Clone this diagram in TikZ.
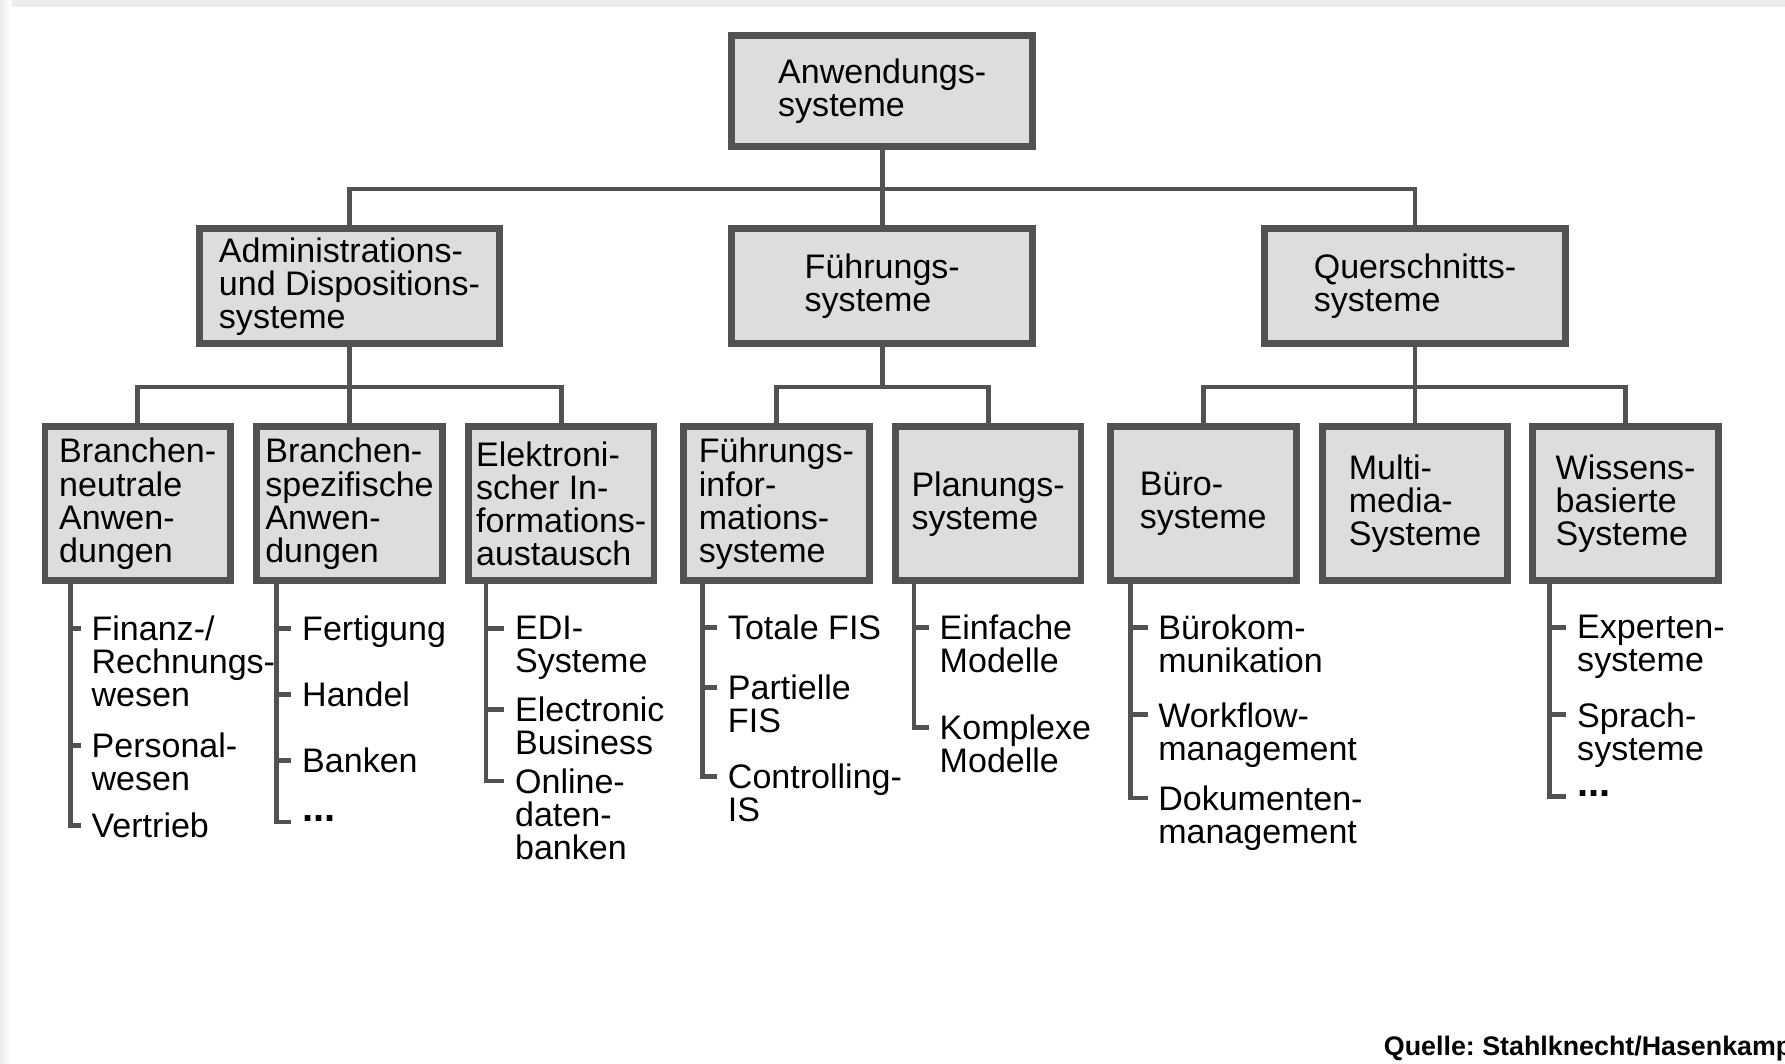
\documentclass[tikz,border=0pt]{standalone}
\usepackage{fontspec}
\setmainfont{Liberation Sans}
\usetikzlibrary{calc}
\definecolor{linec}{RGB}{82,82,82}
\definecolor{boxc}{RGB}{221,221,221}
\definecolor{framec}{RGB}{236,236,236}

\tikzset{
  box/.style={draw=linec, fill=boxc, line width=1.7pt, align=left, inner sep=0pt},
  topbox/.style={box, minimum width=2.64cm, minimum height=0.98cm},
  midbox/.style={box, minimum width=2.64cm, minimum height=1.01cm},
  subbox/.style={box, minimum width=1.63cm, minimum height=1.35cm},
  conn/.style={draw=linec, line width=1.2pt},
  item/.style={anchor=north west, yshift=3.3pt, align=left, inner xsep=2.5pt,
    inner ysep=0pt, execute at begin node=\strut},
  dots/.style={anchor=base west, inner xsep=2.5pt, inner ysep=0pt, font=\bfseries}
}

\begin{document}
\frenchspacing
\begin{tikzpicture}[x=0.01cm, y=-0.01cm, font=\fontsize{8.5}{8.25}\selectfont]
\useasboundingbox (0,0) rectangle (1568,934);
\fill[white] (0,0) rectangle (1568,934);
\fill[framec] (0,0) rectangle (1568,6);
\shade[left color=framec, right color=white] (0,0) rectangle (10,934);

% boxes, three levels (coords in px of the 1568 wide image)
\node[topbox] (anw) at (775,80) {Anwendungs-\\systeme};

\node[midbox] (adm) at (307,251.5) {Administrations-\\und Dispositions-\\systeme};
\node[midbox] (fue) at (775,251.5) {Führungs-\\systeme};
\node[midbox] (qs)  at (1243,251.5) {Querschnitts-\\systeme};

\node[subbox] (neut)  at (121,442.5)  {Branchen-\\neutrale\\Anwen-\\dungen};
\node[subbox] (spez)  at (307,442.5)  {Branchen-\\spezifische\\Anwen-\\dungen};
\node[subbox] (elek)  at (493,442.5)  {Elektroni-\\scher In-\\formations-\\austausch};
\node[subbox] (fis)   at (682,442.5)  {Führungs-\\infor-\\mations-\\systeme};
\node[subbox] (plan)  at (868,442.5)  {Planungs-\\systeme};
\node[subbox] (buero) at (1057,442.5) {Büro-\\systeme};
\node[subbox] (mm)    at (1243,442.5) {Multi-\\media-\\Systeme};
\node[subbox] (wiss)  at (1428,442.5) {Wissens-\\basierte\\Systeme};

% tree connectors
\coordinate (b1) at (775,166);
\coordinate (b2) at (307,340);
\coordinate (b3) at (775,340);
\coordinate (b4) at (1243,340);
\draw[conn] (anw) -- (fue);
\draw[conn] (adm.north) |- (b1) -| (qs.north);
\draw[conn] (adm) -- (spez);
\draw[conn] (neut.north) |- (b2) -| (elek.north);
\draw[conn] (fue.south) -- (b3);
\draw[conn] (fis.north) |- (b3) -| (plan.north);
\draw[conn] (qs) -- (mm);
\draw[conn] (buero.north) |- (b4) -| (wiss.north);

% lists under the boxes, y = height of the tick
\node[item] (i11) at (71,552) {Finanz-/\\Rechnungs-\\wesen};
\node[item] (i12) at (71,655) {Personal-\\wesen};
\node[item] (i13) at (71,725) {Vertrieb};

\node[item] (i21) at (256,552) {Fertigung};
\node[item] (i22) at (256,610) {Handel};
\node[item] (i23) at (256,668) {Banken};
\node[dots] (i24) at (256,722) {...};

\node[item] (i31) at (443,552) {EDI-\\Systeme};
\node[item] (i32) at (443,623) {Electronic\\Business};
\node[item] (i33) at (443,686) {Online-\\daten-\\banken};

\node[item] (i41) at (630,551) {Totale FIS};
\node[item] (i42) at (630,604) {Partielle\\FIS};
\node[item] (i43) at (630,682) {Controlling-\\IS};

\node[item] (i51) at (816,551) {Einfache\\Modelle};
\node[item] (i52) at (816,639) {Komplexe\\Modelle};

\node[item] (i61) at (1008,551) {Bürokom-\\munikation};
\node[item] (i62) at (1008,628) {Workflow-\\management};
\node[item] (i63) at (1008,701) {Dokumenten-\\management};

\node[item] (i81) at (1376,551) {Experten-\\systeme};
\node[item] (i82) at (1376,628) {Sprach-\\systeme};
\node[dots] (i83) at (1376,700) {...};

\coordinate (l1) at ($(neut.south west)+(25.5,0)$);
\coordinate (l2) at ($(spez.south west)+(20.5,0)$);
\coordinate (l3) at ($(elek.south west)+(18.5,0)$);
\coordinate (l4) at ($(fis.south west)+(19.5,0)$);
\coordinate (l5) at ($(plan.south west)+(19.5,0)$);
\coordinate (l6) at ($(buero.south west)+(20.5,0)$);
\coordinate (l8) at ($(wiss.south west)+(17.5,0)$);

% tick point: 3.3pt (11.6px) below the top of an item
\draw[conn] (l1) |- ($(i13.north west)+(0,11.6)$);
\draw[conn] (l2) |- (i24.base west);
\draw[conn] (l3) |- ($(i33.north west)+(0,11.6)$);
\draw[conn] (l4) |- ($(i43.north west)+(0,11.6)$);
\draw[conn] (l5) |- ($(i52.north west)+(0,11.6)$);
\draw[conn] (l6) |- ($(i63.north west)+(0,11.6)$);
\draw[conn] (l8) |- (i83.base west);
\foreach \l/\n in {l1/i11, l1/i12, l2/i21, l2/i22, l2/i23, l3/i31, l3/i32,
                   l4/i41, l4/i42, l5/i51, l6/i61, l6/i62, l8/i81, l8/i82}
  \draw[conn] (\l |- {$(\n.north west)+(0,11.6)$}) -- ($(\n.north west)+(0,11.6)$);

\node[anchor=base west, inner sep=0pt, font=\fontsize{6.7}{8}\selectfont\bfseries]
  (src) at (1215,927) {Quelle: Stahlknecht/Hasenkamp};
\end{tikzpicture}
\end{document}
